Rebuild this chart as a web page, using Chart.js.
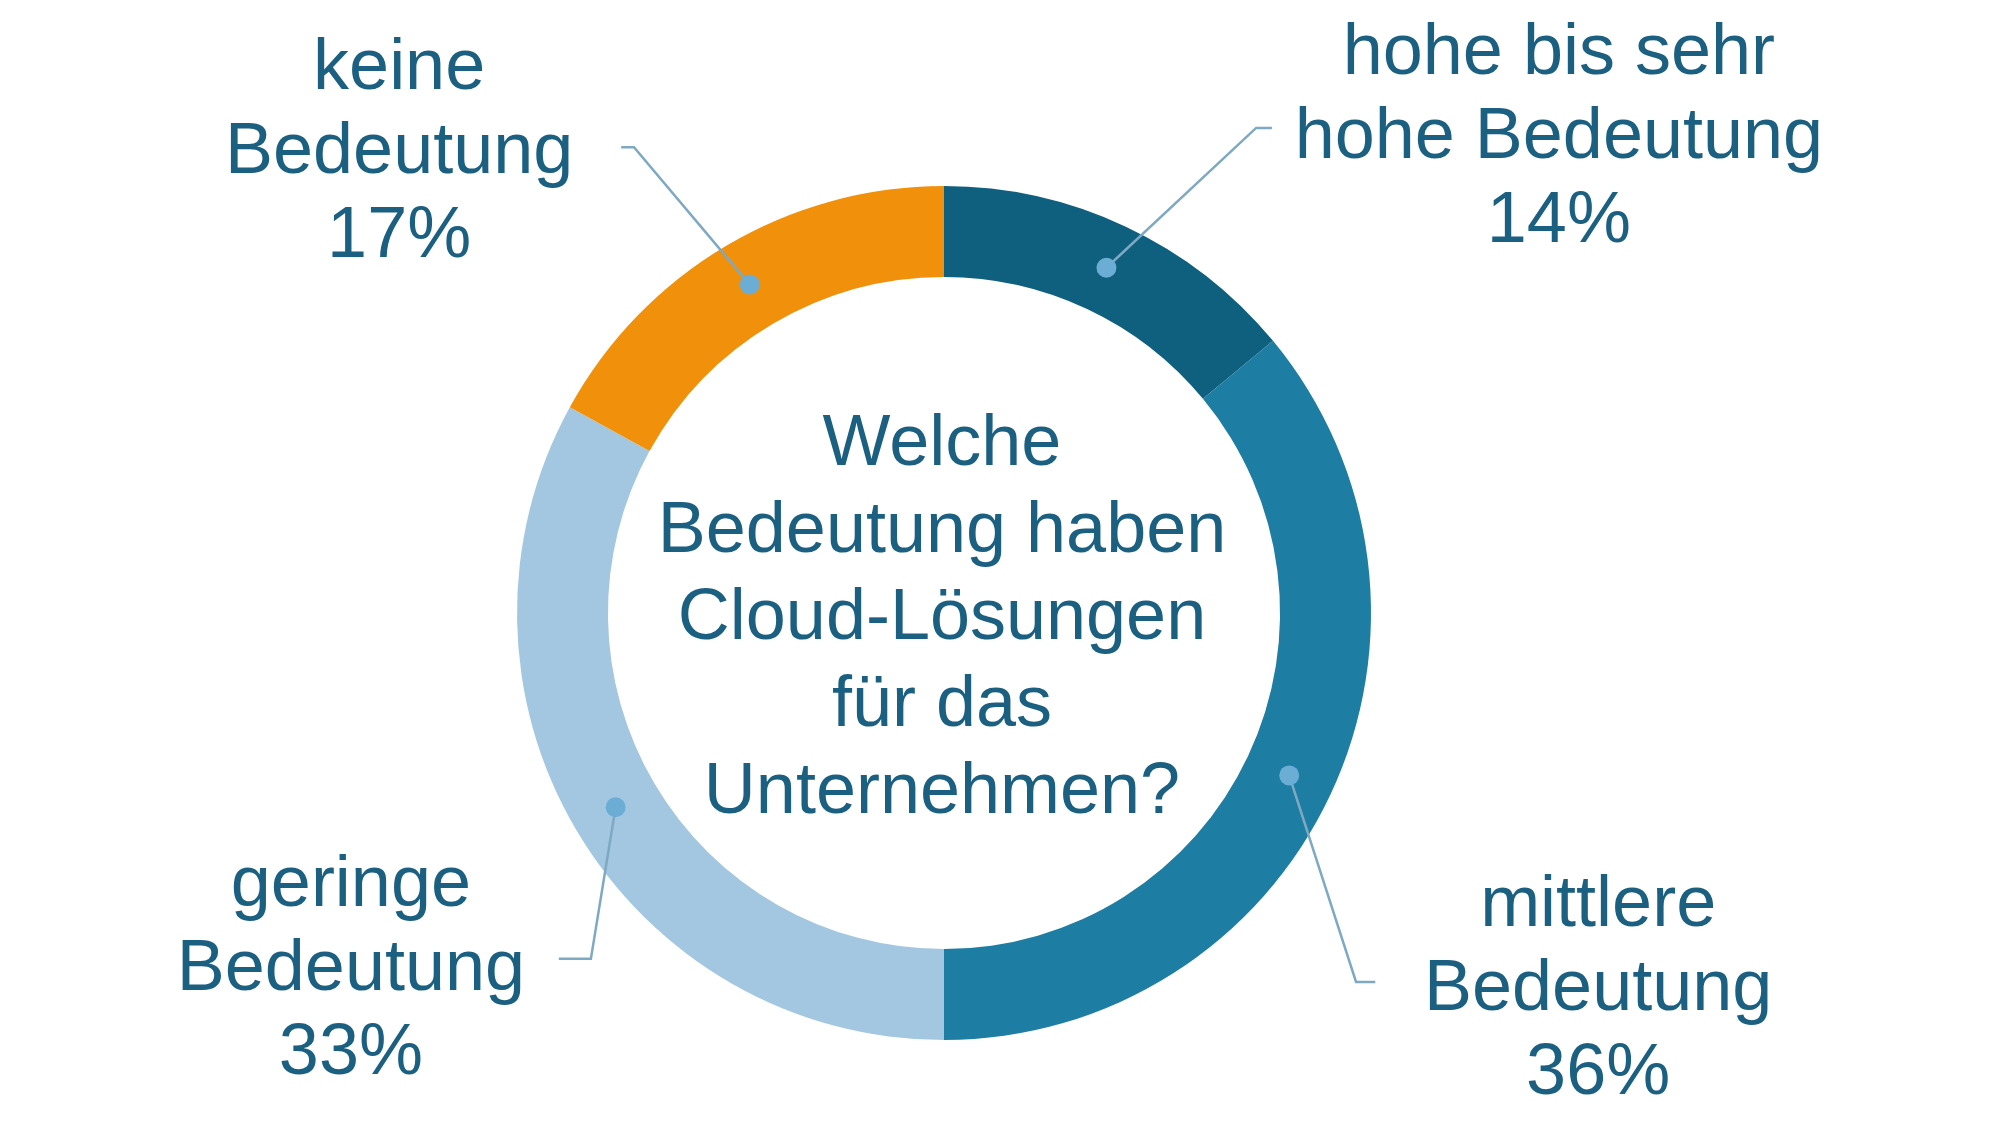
<!DOCTYPE html>
<html>
<head>
<meta charset="utf-8">
<script src="https://cdn.jsdelivr.net/npm/chart.js@4.4.1/dist/chart.umd.min.js"></script>
<style>
  html, body { margin: 0; padding: 0; background: #fff; }
  #wrap { width: 2000px; height: 1125px; }
</style>
</head>
<body>
<div id="wrap"><canvas id="cloudChart"></canvas></div>
<script>
const categories = ["hohe bis sehr hohe Bedeutung", "mittlere Bedeutung", "geringe Bedeutung", "keine Bedeutung"];
const shares = [14, 36, 33, 17];
const labelLines = [
    ["hohe bis sehr", "hohe Bedeutung"],
    ["mittlere", "Bedeutung"],
    ["geringe", "Bedeutung"],
    ["keine", "Bedeutung"]
];
const centerLines = ["Welche", "Bedeutung haben", "Cloud-Lösungen", "für das", "Unternehmen?"];
const sliceColors = ["#0f5f7e", "#1e7da2", "#a3c7e0", "#f1900b"];

const TEXT_COLOR = "#1b5f81";
const FONT = "72px 'Liberation Sans', Arial, sans-serif";

// label placement, in units of the outer radius, relative to the centre
const labelLayout = [
    { tx: 1.44, ty: -1.112, elbow: [0.731, -1.136], end: 0.768 },
    { tx: 1.532, ty: 0.884, elbow: [0.965, 0.864], end: 1.01 },
    { tx: -1.389, ty: 0.837, elbow: [-0.827, 0.81], end: -0.902 },
    { tx: -1.276, ty: -1.077, elbow: [-0.726, -1.091], end: -0.756 }
];

const calloutPlugin = {
    id: "callouts",
    afterDatasetsDraw(chart) {
        const ctx = chart.ctx;
        const meta = chart.getDatasetMeta(0);
        ctx.save();
        meta.data.forEach((arc, i) => {
            const p = arc.getProps(["x", "y", "startAngle", "endAngle", "innerRadius", "outerRadius"], true);
            const R = p.outerRadius;
            const mid = (p.startAngle + p.endAngle) / 2;
            const rm = (p.innerRadius + p.outerRadius) / 2;
            const dx = p.x + Math.cos(mid) * rm;
            const dy = p.y + Math.sin(mid) * rm;
            const lay = labelLayout[i];
            const ex = p.x + lay.elbow[0] * R, ey = p.y + lay.elbow[1] * R;

            // leader line
            ctx.strokeStyle = "#7ea9c3";
            ctx.lineWidth = 2.5;
            ctx.beginPath();
            ctx.moveTo(dx, dy);
            ctx.lineTo(ex, ey);
            ctx.lineTo(p.x + lay.end * R, ey);
            ctx.stroke();

            // dot
            ctx.fillStyle = "#6badd5";
            ctx.beginPath();
            ctx.arc(dx, dy, 10, 0, Math.PI * 2);
            ctx.fill();

            // text
            const lines = labelLines[i].concat([shares[i] + "%"]);
            const cx = p.x + lay.tx * R, cy = p.y + lay.ty * R;
            ctx.fillStyle = TEXT_COLOR;
            ctx.font = FONT;
            ctx.textAlign = "center";
            ctx.textBaseline = "middle";
            lines.forEach((t, k) => ctx.fillText(t, cx, cy + (k - 1) * 84));
        });

        // centre question
        const p0 = meta.data[0];
        ctx.fillStyle = TEXT_COLOR;
        ctx.font = FONT;
        ctx.textAlign = "center";
        ctx.textBaseline = "middle";
        centerLines.forEach((t, k) => ctx.fillText(t, p0.x - 2, p0.y + 6 + (k - 2) * 87));
        ctx.restore();
    }
};

new Chart(document.getElementById("cloudChart"), {
    type: "doughnut",
    data: {
        labels: categories,
        datasets: [{
            data: shares,
            backgroundColor: sliceColors,
            borderWidth: 0
        }]
    },
    options: {
        responsive: true,
        maintainAspectRatio: false,
        animation: false,
        cutout: "78.7%",
        layout: { padding: { left: 517, right: 629, top: 186, bottom: 85 } },
        plugins: {
            legend: { display: false },
            tooltip: { enabled: false }
        }
    },
    plugins: [calloutPlugin]
});
</script>
</body>
</html>
